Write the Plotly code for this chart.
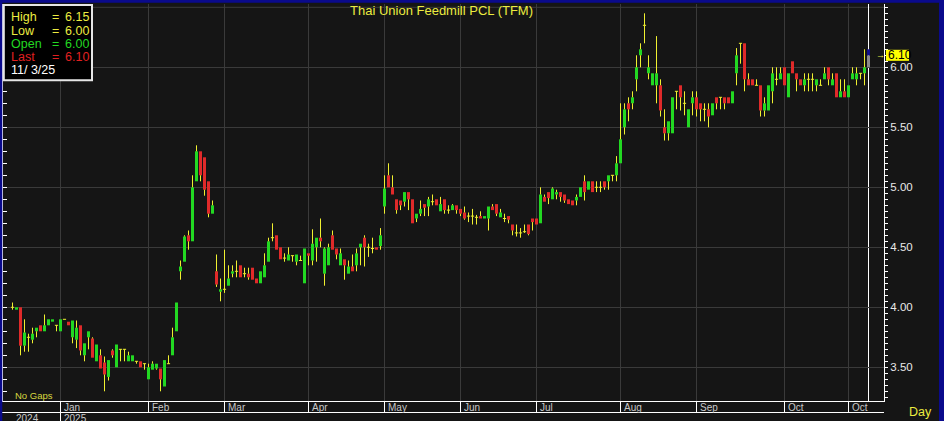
import plotly.graph_objects as go

# ---------------- data ----------------
opens = [4.00, 3.98, 4.00, 3.68, 3.75, 3.73, 3.80, 3.85, 3.80, 3.85,
         3.88, 3.85, 3.80, 3.90, 3.88, 3.75, 3.73, 3.85, 3.60, 3.75,
         3.74, 3.55, 3.60, 3.54, 3.42, 3.64, 3.50, 3.65, 3.65, 3.55,
         3.55, 3.55, 3.55, 3.53, 3.40, 3.48, 3.49, 3.49, 3.34, 3.53,
         3.60, 3.80, 4.30, 4.38, 4.60, 4.55, 5.05, 5.30, 5.25, 5.05,
         4.78, 4.30, 4.13, 4.15, 4.18, 4.28, 4.30, 4.35, 4.28, 4.28,
         4.33, 4.24, 4.20, 4.25, 4.38, 4.58, 4.60, 4.50, 4.41, 4.39,
         4.43, 4.38, 4.39, 4.20, 4.45, 4.39, 4.50, 4.58, 4.28, 4.35,
         4.60, 4.49, 4.35, 4.40, 4.28, 4.34, 4.35, 4.50, 4.58, 4.50,
         4.49, 4.50, 4.51, 4.84, 5.10, 5.00, 4.90, 4.89, 4.88, 4.96,
         4.90, 4.74, 4.78, 4.86, 4.84, 4.88, 4.90, 4.80, 4.90, 4.81,
         4.81, 4.85, 4.82, 4.79, 4.76, 4.76, 4.75, 4.76, 4.74, 4.74,
         4.84, 4.86, 4.75, 4.74, 4.76, 4.69, 4.62, 4.62, 4.63, 4.69,
         4.74, 4.74, 4.70, 4.92, 4.96, 4.90, 4.94, 4.96, 4.94, 4.90,
         4.89, 4.89, 4.92, 5.05, 4.98, 5.05, 5.00, 5.00, 5.05, 5.05,
         5.10, 5.10, 5.20, 5.50, 5.70, 5.70, 5.90, 6.10, 6.35, 5.95,
         5.85, 5.85, 5.85, 5.50, 5.45, 5.45, 5.80, 5.85, 5.70, 5.50,
         5.70, 5.75, 5.70, 5.65, 5.65, 5.60, 5.75, 5.75, 5.75, 5.75,
         5.70, 5.95, 6.20, 6.20, 5.90, 5.90, 5.85, 5.85, 5.64, 5.64,
         5.80, 5.90, 5.90, 6.00, 5.75, 6.05, 5.95, 5.90, 5.85, 5.90,
         5.90, 5.85, 5.85, 5.90, 6.00, 5.85, 5.95, 5.75, 5.80, 5.75,
         5.90, 5.90, 5.95, 5.95, 6.00]
highs = [4.04, 4.00, 4.00, 3.90, 3.78, 3.83, 3.83, 3.85, 3.94, 3.90,
         3.90, 3.85, 3.90, 3.90, 3.88, 3.89, 3.89, 3.85, 3.70, 3.80,
         3.75, 3.69, 3.65, 3.59, 3.56, 3.65, 3.69, 3.65, 3.65, 3.63,
         3.60, 3.55, 3.55, 3.53, 3.53, 3.55, 3.53, 3.49, 3.56, 3.60,
         3.83, 4.04, 4.39, 4.60, 4.64, 5.10, 5.35, 5.30, 5.25, 5.05,
         4.89, 4.44, 4.24, 4.48, 4.35, 4.35, 4.39, 4.35, 4.33, 4.33,
         4.33, 4.24, 4.30, 4.45, 4.58, 4.70, 4.60, 4.50, 4.45, 4.50,
         4.43, 4.44, 4.43, 4.49, 4.45, 4.65, 4.58, 4.74, 4.50, 4.53,
         4.64, 4.49, 4.49, 4.40, 4.39, 4.44, 4.49, 4.53, 4.60, 4.53,
         4.58, 4.50, 4.66, 5.10, 5.20, 5.10, 4.90, 4.89, 4.96, 4.96,
         4.90, 4.78, 4.89, 4.86, 4.92, 4.94, 4.90, 4.92, 4.90, 4.85,
         4.86, 4.85, 4.82, 4.84, 4.79, 4.82, 4.77, 4.80, 4.76, 4.84,
         4.86, 4.86, 4.82, 4.78, 4.76, 4.69, 4.69, 4.66, 4.69, 4.69,
         4.74, 4.74, 5.00, 4.94, 4.96, 5.00, 4.98, 4.96, 4.94, 4.90,
         4.89, 4.94, 5.00, 5.10, 5.05, 5.05, 5.05, 5.05, 5.05, 5.10,
         5.10, 5.26, 5.70, 5.70, 5.75, 5.80, 6.10, 6.20, 6.45, 6.10,
         5.95, 6.26, 5.90, 5.65, 5.55, 5.75, 5.80, 5.85, 5.80, 5.65,
         5.80, 5.80, 5.70, 5.70, 5.70, 5.70, 5.75, 5.75, 5.75, 5.75,
         5.80, 6.16, 6.20, 6.20, 5.95, 5.90, 5.90, 5.85, 5.75, 5.85,
         6.00, 6.00, 6.00, 6.00, 5.95, 6.05, 5.95, 5.90, 5.95, 5.95,
         5.95, 5.90, 5.90, 6.00, 6.00, 5.95, 5.95, 5.90, 5.90, 5.85,
         6.00, 6.00, 5.95, 6.15, 6.15]
lows = [3.98, 3.98, 3.60, 3.63, 3.63, 3.70, 3.75, 3.80, 3.80, 3.85,
        3.88, 3.80, 3.80, 3.90, 3.85, 3.70, 3.66, 3.60, 3.55, 3.65,
        3.58, 3.55, 3.49, 3.30, 3.39, 3.58, 3.50, 3.55, 3.55, 3.55,
        3.55, 3.53, 3.50, 3.48, 3.40, 3.48, 3.48, 3.30, 3.34, 3.53,
        3.60, 3.80, 4.23, 4.38, 4.48, 4.55, 5.05, 5.05, 4.93, 4.75,
        4.78, 4.17, 4.05, 4.12, 4.18, 4.25, 4.25, 4.25, 4.25, 4.23,
        4.23, 4.20, 4.20, 4.25, 4.38, 4.55, 4.48, 4.40, 4.38, 4.39,
        4.38, 4.35, 4.39, 4.20, 4.35, 4.35, 4.38, 4.50, 4.18, 4.35,
        4.48, 4.40, 4.35, 4.23, 4.28, 4.30, 4.30, 4.35, 4.34, 4.42,
        4.45, 4.48, 4.48, 4.78, 5.00, 4.94, 4.78, 4.81, 4.84, 4.81,
        4.70, 4.71, 4.76, 4.76, 4.76, 4.85, 4.85, 4.80, 4.78, 4.78,
        4.81, 4.78, 4.76, 4.73, 4.71, 4.69, 4.69, 4.74, 4.74, 4.64,
        4.81, 4.76, 4.75, 4.71, 4.70, 4.60, 4.59, 4.58, 4.62, 4.60,
        4.64, 4.69, 4.70, 4.88, 4.86, 4.90, 4.90, 4.88, 4.87, 4.86,
        4.85, 4.85, 4.92, 4.89, 4.98, 4.96, 4.96, 4.96, 4.98, 4.98,
        5.05, 5.05, 5.20, 5.44, 5.55, 5.65, 5.80, 6.00, 6.20, 5.90,
        5.85, 5.70, 5.59, 5.39, 5.39, 5.45, 5.65, 5.64, 5.60, 5.50,
        5.60, 5.59, 5.55, 5.55, 5.50, 5.60, 5.65, 5.65, 5.65, 5.70,
        5.70, 5.85, 6.03, 5.80, 5.85, 5.85, 5.85, 5.59, 5.59, 5.64,
        5.70, 5.85, 5.90, 5.85, 5.75, 5.95, 5.80, 5.85, 5.80, 5.80,
        5.80, 5.80, 5.85, 5.90, 5.85, 5.85, 5.75, 5.75, 5.75, 5.75,
        5.90, 5.85, 5.90, 5.85, 6.00]
closes = [4.00, 4.00, 3.68, 3.79, 3.75, 3.78, 3.83, 3.80, 3.85, 3.90,
          3.90, 3.85, 3.90, 3.90, 3.85, 3.89, 3.83, 3.64, 3.70, 3.80,
          3.58, 3.69, 3.49, 3.44, 3.56, 3.60, 3.69, 3.65, 3.65, 3.60,
          3.60, 3.55, 3.50, 3.53, 3.50, 3.53, 3.53, 3.40, 3.56, 3.53,
          3.75, 4.04, 4.34, 4.59, 4.55, 5.00, 5.30, 5.10, 4.98, 4.78,
          4.85, 4.19, 4.15, 4.15, 4.24, 4.30, 4.30, 4.25, 4.28, 4.25,
          4.23, 4.20, 4.30, 4.35, 4.55, 4.58, 4.48, 4.40, 4.41, 4.44,
          4.43, 4.44, 4.39, 4.49, 4.43, 4.53, 4.58, 4.55, 4.49, 4.50,
          4.48, 4.44, 4.45, 4.35, 4.34, 4.30, 4.45, 4.53, 4.50, 4.50,
          4.49, 4.48, 4.60, 4.99, 5.00, 4.94, 4.81, 4.85, 4.96, 4.90,
          4.70, 4.78, 4.82, 4.83, 4.90, 4.88, 4.85, 4.86, 4.81, 4.81,
          4.85, 4.81, 4.78, 4.74, 4.76, 4.76, 4.75, 4.74, 4.76, 4.84,
          4.81, 4.78, 4.79, 4.74, 4.73, 4.64, 4.62, 4.62, 4.63, 4.61,
          4.71, 4.69, 4.94, 4.88, 4.91, 4.99, 4.96, 4.92, 4.89, 4.86,
          4.85, 4.92, 5.00, 4.96, 5.05, 4.96, 5.00, 5.00, 5.00, 5.10,
          5.10, 5.20, 5.40, 5.65, 5.65, 5.75, 6.00, 6.15, 6.35, 6.00,
          5.95, 5.95, 5.64, 5.45, 5.55, 5.75, 5.80, 5.75, 5.70, 5.65,
          5.75, 5.65, 5.65, 5.65, 5.59, 5.70, 5.70, 5.75, 5.70, 5.70,
          5.80, 6.10, 6.20, 5.90, 5.85, 5.85, 5.85, 5.64, 5.70, 5.85,
          5.95, 5.90, 5.95, 5.85, 5.95, 5.95, 5.90, 5.85, 5.90, 5.90,
          5.90, 5.90, 5.85, 5.95, 5.90, 5.90, 5.75, 5.80, 5.75, 5.85,
          5.95, 5.95, 5.95, 6.00, 6.10]

month_labels = ["Jan", "Feb", "Mar", "Apr", "May", "Jun", "Jul", "Aug", "Sep", "Oct", "Oct"]
month_start_idx = [12, 34, 53, 74, 93, 112, 131, 152, 171, 193, 209]
year_labels = ["2024", "2025"]
year_start_idx = [0, 12]
y_tick_vals = [3.5, 4.0, 4.5, 5.0, 5.5, 6.0]
title_text = "Thai Union Feedmill PCL (TFM)"
last_date = "11/ 3/25"

# ---------------- geometry / style ----------------
W, H = 944, 421
ML, MR, MT, MB = 3, 60, 4, 20
PW = W - ML - MR
PH = H - MT - MB


def px(x):
    return (x - ML) / PW


def py(y):
    return (H - MB - y) / PH


BG = "#151515"
GRID = "#3a3a3a"
UP = "#22d822"
DOWN = "#e02a2a"
WICK = "#f0f030"
YEL = "#ecec40"
FONT = "Liberation Sans, Arial, sans-serif"
NARROW = "Liberation Sans Narrow, Arial Narrow, " + FONT

n = len(closes)
idx = list(range(n))
last = n - 1

body_base = [min(o, c) for o, c in zip(opens, closes)]
body_h = [abs(c - o) for o, c in zip(opens, closes)]
body_col = [UP if c > o else DOWN for o, c in zip(opens, closes)]
body_col[last] = "#8a8a8a"

# wick segments (outside the body only)
wx, wy = [], []
for i in range(n):
    lo_b, hi_b = body_base[i], body_base[i] + body_h[i]
    if highs[i] > hi_b + 1e-9 and i != last:
        wx += [i, i, None]
        wy += [hi_b, highs[i], None]
    if lows[i] < lo_b - 1e-9:
        wx += [i, i, None]
        wy += [lows[i], lo_b, None]

# doji horizontal ticks
dx, dy = [], []
for i in range(n):
    if abs(opens[i] - closes[i]) < 1e-9:
        dx += [i - 0.4, i + 0.4, None]
        dy += [opens[i], opens[i], None]

fig = go.Figure()
fig.add_trace(go.Bar(x=idx, y=body_h, base=body_base, width=0.75,
                     marker=dict(color=body_col, line=dict(width=0)),
                     hoverinfo="skip", showlegend=False))
fig.add_trace(go.Bar(x=[last], y=[highs[last] - closes[last]], base=[closes[last]],
                     width=0.75, marker=dict(color="#10108a", line=dict(width=0)),
                     hoverinfo="skip", showlegend=False))
fig.add_trace(go.Scatter(x=wx, y=wy, mode="lines", line=dict(color=WICK, width=1),
                         hoverinfo="skip", showlegend=False))
fig.add_trace(go.Scatter(x=dx, y=dy, mode="lines", line=dict(color=WICK, width=1),
                         hoverinfo="skip", showlegend=False))
fig.add_trace(go.Scatter(x=[None], y=[None], yaxis="y2", mode="markers",
                         hoverinfo="skip", showlegend=False))

y_lo = 5.0 - (H - MB - 187.3) / 120.0
y_hi = 5.0 + (187.3 - MT) / 120.0
# bar centres on half-pixel positions (12.5 + 4*i) for crisp 1px wicks
x_lo = (ML - 12.5) / 4.0
x_hi = (W - MR - 12.5) / 4.0

shapes = []
# extra gridline at 6.50
shapes.append(dict(type="line", xref="paper", yref="y", x0=0, x1=1, y0=6.5, y1=6.5,
                   line=dict(color=GRID, width=1), layer="below"))
# cursor line at last bar
shapes.append(dict(type="line", xref="x", yref="paper", x0=last, x1=last, y0=0, y1=1,
                   line=dict(color="white", width=1), layer="below"))
# bottom strip line
shapes.append(dict(type="line", xref="paper", yref="paper", x0=px(0), x1=px(884),
                   y0=py(412.5), y1=py(412.5), line=dict(color="white", width=1)))
# month separators in strip
for k, m in enumerate(month_start_idx):
    shapes.append(dict(type="line", xref="x", yref="paper", x0=m, x1=m, y0=0,
                       y1=py(421) if k == 0 else py(412.5),
                       line=dict(color="white", width=1)))
# blue frame
shapes.append(dict(type="rect", xref="paper", yref="paper", x0=px(0), x1=px(W),
                   y0=py(0), y1=py(2.7), fillcolor="#0a0a8c", line=dict(width=0)))
shapes.append(dict(type="rect", xref="paper", yref="paper", x0=px(0), x1=px(2.3),
                   y0=py(0), y1=py(H), fillcolor="#0a0a8c", line=dict(width=0)))
shapes.append(dict(type="rect", xref="paper", yref="paper", x0=px(939), x1=px(W),
                   y0=py(0), y1=py(H), fillcolor="#0a0a8c", line=dict(width=0)))
# info box
shapes.append(dict(type="rect", xref="paper", yref="paper", x0=px(3.8), x1=px(92),
                   y0=py(5), y1=py(80.3), fillcolor="#000000",
                   line=dict(color="#e6e6e6", width=2), layer="above"))
# last price yellow box
shapes.append(dict(type="rect", xref="paper", yref="y", x0=px(886), x1=px(909),
                   y0=closes[last] - 0.046, y1=closes[last] + 0.046,
                   fillcolor="#ffff00", line=dict(width=0)))

ann = []
ann.append(dict(text=title_text, xref="paper", yref="paper", x=px(441.5), y=py(10.5),
                xanchor="center", yanchor="middle", showarrow=False,
                font=dict(family=FONT, size=13, color=YEL)))
info_rows = [("High", highs[last], YEL), ("Low", lows[last], YEL),
             ("Open", opens[last], "#22d822"), ("Last", closes[last], "#e02020")]
row_y = [17.3, 30.7, 43.6, 56.8]
for (lab, val, col), yy in zip(info_rows, row_y):
    ann.append(dict(text=lab, xref="paper", yref="paper", x=px(8.8), y=py(yy),
                    xanchor="left", yanchor="middle", showarrow=False,
                    font=dict(family=FONT, size=12.5, color=col)))
    ann.append(dict(text="=", xref="paper", yref="paper", x=px(49.5), y=py(yy),
                    xanchor="left", yanchor="middle", showarrow=False,
                    font=dict(family=FONT, size=12.5, color=col)))
    ann.append(dict(text=f"{val:.2f}", xref="paper", yref="paper", x=px(62.5), y=py(yy),
                    xanchor="left", yanchor="middle", showarrow=False,
                    font=dict(family=FONT, size=12.5, color=col)))
ann.append(dict(text=last_date, xref="paper", yref="paper", x=px(8.8), y=py(70),
                xanchor="left", yanchor="middle", showarrow=False,
                font=dict(family=FONT, size=12.5, color="white")))
# last price label
ann.append(dict(text=f"{closes[last]:.2f}", xref="paper", yref="y", x=px(885.5),
                y=closes[last], xanchor="left", yanchor="middle", showarrow=False,
                font=dict(family=FONT, size=12, color="black")))
ann.append(dict(text="→", xref="paper", yref="y", x=px(880.5), y=closes[last],
                xanchor="center", yanchor="middle", showarrow=False,
                font=dict(family=FONT, size=9, color=YEL)))
ann.append(dict(text="No Gaps", xref="paper", yref="paper", x=px(12.5), y=py(395),
                xanchor="left", yanchor="middle", showarrow=False,
                font=dict(family=FONT, size=9.5, color="#d8d840")))
ann.append(dict(text="Day", xref="paper", yref="paper", x=px(920), y=py(412.5),
                xanchor="center", yanchor="middle", showarrow=False,
                font=dict(family=FONT, size=12.5, color=YEL)))
for lab, m in zip(month_labels, month_start_idx):
    ann.append(dict(text=lab, xref="x", yref="paper", x=m + 0.25, y=py(399.5),
                    xanchor="left", yanchor="top", showarrow=False,
                    font=dict(family=NARROW, size=10, color="#c8c8c8")))
for lab, m in zip(year_labels, year_start_idx):
    ann.append(dict(text=lab, xref="x", yref="paper", x=m + 0.25, y=py(411),
                    xanchor="left", yanchor="top", showarrow=False,
                    font=dict(family=NARROW, size=10, color="#c8c8c8")))

fig.update_layout(
    width=W, height=H,
    margin=dict(l=ML, r=MR, t=MT, b=MB, pad=0),
    paper_bgcolor=BG, plot_bgcolor=BG,
    barmode="overlay",
    showlegend=False,
    font=dict(family=FONT, color="white"),
    xaxis=dict(range=[x_lo, x_hi],
               tickmode="array", tickvals=month_start_idx, showticklabels=False,
               ticks="", showgrid=True, gridcolor=GRID, gridwidth=1,
               showline=True, linecolor="white", linewidth=1.2,
               zeroline=False, fixedrange=True),
    yaxis=dict(range=[y_lo, y_hi], side="right",
               tickmode="array", tickvals=y_tick_vals,
               ticktext=[f"{v:.2f}" for v in y_tick_vals],
               ticks="outside", ticklen=3, tickcolor="white", tickwidth=1,
               tickfont=dict(family=FONT, size=11.5, color="#e8e8e8"),
               showgrid=True, gridcolor=GRID, gridwidth=1,
               showline=True, linecolor="white", linewidth=1,
               zeroline=False, fixedrange=True,
               minor=dict(tickmode="linear", tick0=0, dtick=0.05, ticks="outside",
                          ticklen=3, tickcolor="white", showgrid=False)),
    yaxis2=dict(range=[y_lo, y_hi], overlaying="y", side="left", anchor="x",
                tickmode="linear", tick0=0, dtick=0.1, ticks="inside", ticklen=4,
                tickcolor="white", showticklabels=False, showgrid=False,
                showline=True, linecolor="white", linewidth=1.2,
                zeroline=False, fixedrange=True),
    shapes=shapes,
    annotations=ann,
)

fig.write_html("out.html", config=dict(displayModeBar=False),
               post_script="document.body.style.margin='0px';document.body.style.overflow='hidden';")
